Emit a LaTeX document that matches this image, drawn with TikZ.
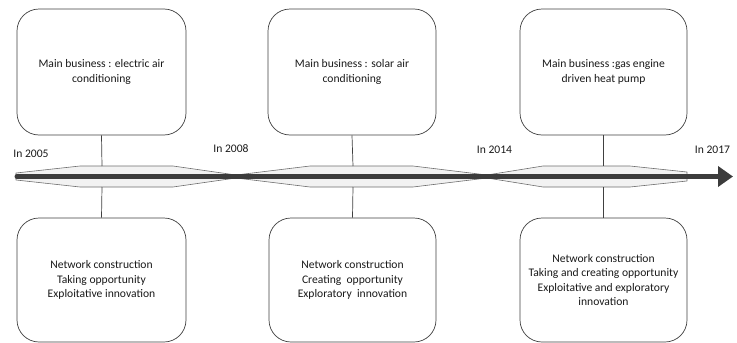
\documentclass[tikz,border=0pt]{standalone}
\usepackage{fontspec}
\setmainfont{Carlito}
\usetikzlibrary{arrows.meta}
\definecolor{edge}{HTML}{404040}
\definecolor{segfill}{HTML}{F2F2F2}
\definecolor{segedge}{HTML}{6E6E6E}
\definecolor{bar}{HTML}{3C3C3C}
\definecolor{txt}{HTML}{1A1A1A}
\tikzset{
  card/.style={draw=edge, line width=0.7pt, rounded corners=22pt, fill=white,
    align=center, text=txt, font=\fontsize{11.6}{14.2}\selectfont, inner sep=2pt},
  topcard/.style={card, minimum height=126pt},
  botcard/.style={card, minimum height=124pt},
  seg/.style={draw=segedge, line width=0.6pt, fill=segfill, line join=round},
  stem/.style={draw=edge, line width=0.7pt},
  yearlbl/.style={text=txt, font=\fontsize{11.6}{13}\selectfont, inner sep=0pt},
}
\begin{document}
\begin{tikzpicture}[x=1pt,y=-1pt]
\useasboundingbox (0,0) rectangle (737,343);
% boxes
\node[topcard, minimum width=169pt] (t1) at (101.5,72) {Main business : electric air\\conditioning};
\node[topcard, minimum width=168pt] (t2) at (352,72) {Main business : solar air\\conditioning};
\node[topcard, minimum width=167pt] (t3) at (603.5,72) {Main business :gas engine\\driven heat pump};
\node[botcard, minimum width=169pt] (b1) at (101.5,280) {Network construction\\Taking opportunity\\Exploitative innovation};
\node[botcard, minimum width=167pt] (b2) at (352.5,280) {Network construction\\Creating\ \ opportunity\\Exploratory\ \ innovation};
\node[botcard, minimum width=167pt] (b3) at (603.5,280) {Network construction\\Taking and creating opportunity\\Exploitative and exploratory\\innovation};
% segments
\draw[seg] (16,173) -- (80,166) -- (173,166) -- (236,175) -- (236,178) -- (173,187) -- (80,187) -- (16,180) -- cycle;
\draw[seg] (236,175) -- (310,166) -- (413,166) -- (487,175) -- (487,178) -- (413,187) -- (310,187) -- (236,178) -- cycle;
\draw[seg] (487,175) -- (543,166) -- (630,166) -- (687,172) -- (687,181) -- (630,187) -- (543,187) -- (487,178) -- cycle;
% stem anchors
\coordinate (s1t) at (102,166); \coordinate (s1b) at (102,187);
\coordinate (s2t) at (353,166); \coordinate (s2b) at (353,187);
\coordinate (s3t) at (603.5,166); \coordinate (s3b) at (603.5,187);
\draw[stem] (t1.south) -- (s1t);
\draw[stem] (t2.south) -- (s2t);
\draw[stem] (t3.south) -- (s3t);
\draw[stem] (s1b) -- (b1.north);
\draw[stem] (s2b) -- (b2.north);
\draw[stem] (s3b) -- (b3.north);
% timeline bar
\coordinate (tstart) at (17,176.5);
\coordinate (tend) at (733,176.5);
\draw[bar, line width=5pt, line cap=round, -{Triangle[length=15pt,width=20pt]}] (tstart) -- (tend);
% year labels
\node[yearlbl] (y1) at (31,154) {In 2005};
\node[yearlbl] (y2) at (231,149) {In 2008};
\node[yearlbl] (y3) at (494.5,150) {In 2014};
\node[yearlbl] (y4) at (712.5,150) {In 2017};
\end{tikzpicture}
\end{document}
